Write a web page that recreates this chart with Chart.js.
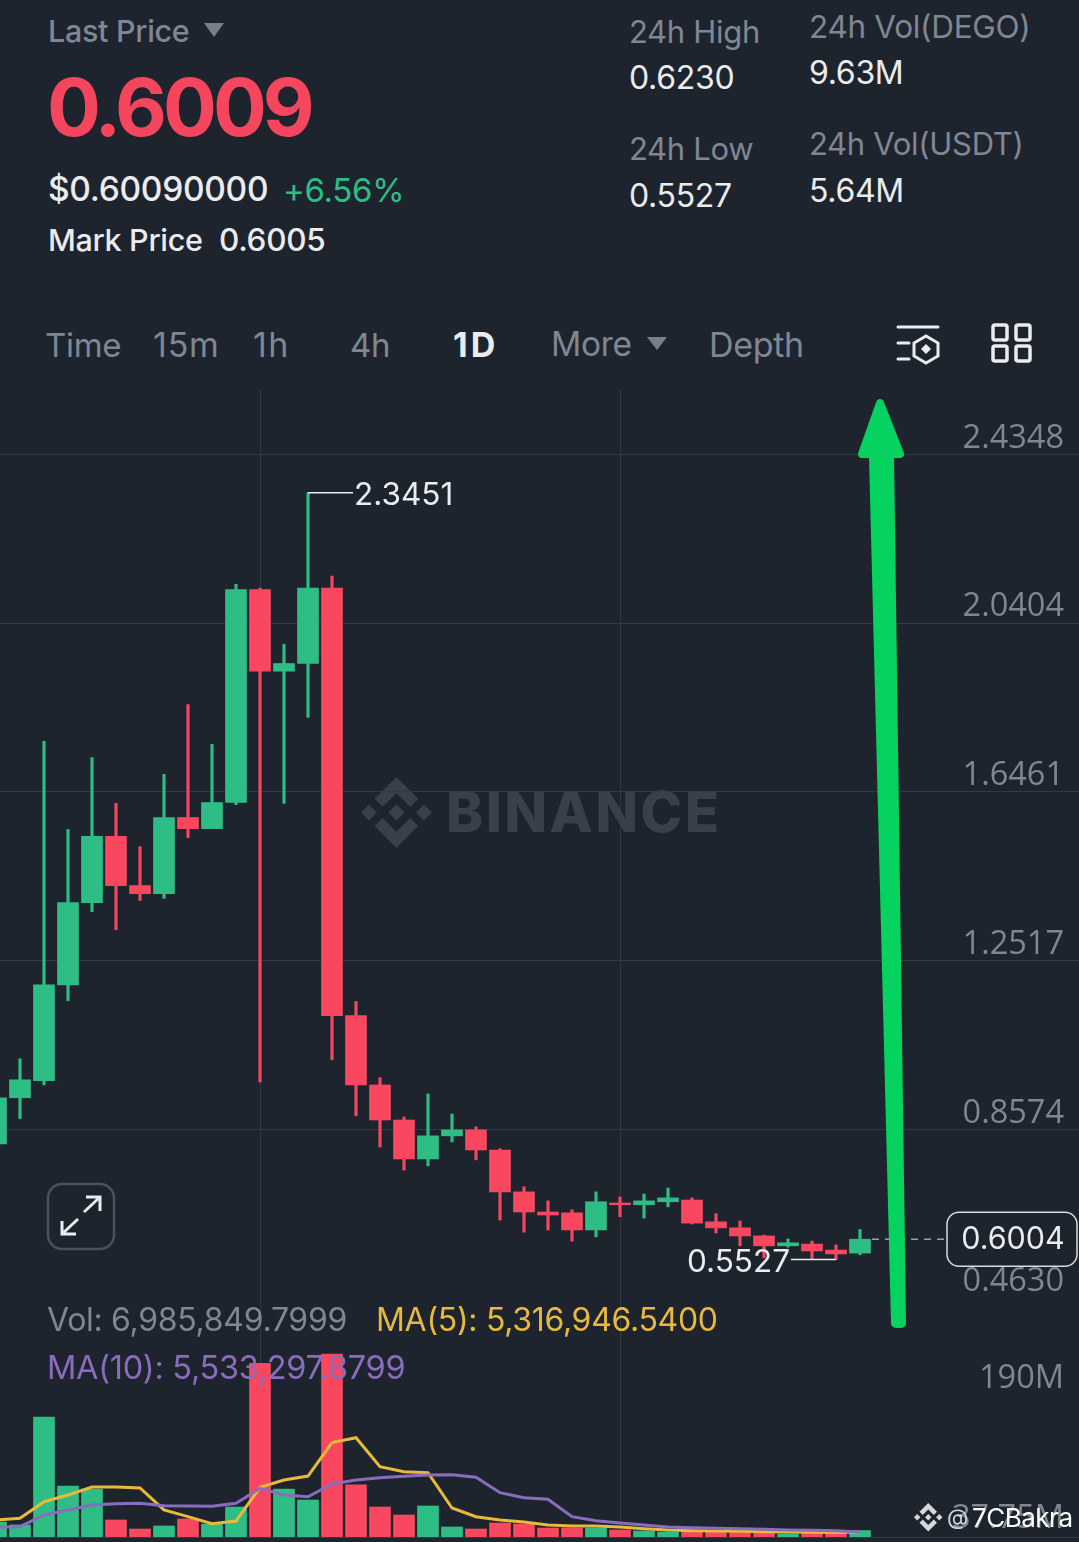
<!DOCTYPE html>
<html>
<head>
<meta charset="utf-8">
<title>DEGO/USDT 1D</title>
<script src="https://cdn.jsdelivr.net/npm/chart.js@4/dist/chart.umd.min.js"></script>
<style>
    html, body { margin: 0; padding: 0; background: #1e242e; }
    #page { position: relative; width: 1079px; height: 1542px; overflow: hidden; background: #1e242e; font-family: Inter, sans-serif; }
    #page canvas { position: absolute; }
    #page svg { position: absolute; left: 0; top: 0; }
    .t { position: absolute; transform: translateY(-50%); white-space: nowrap; font-size: 31.5px; line-height: 1; color: #7f8793; letter-spacing: -0.3px; }
    .w { color: #eaecef; }
    .tab { font-size: 34px; }
</style>
</head>
<body>
<div id="page">
    <!-- watermark sits under the canvases -->
    <svg width="1079" height="1542">
        <defs>
            <g id="bnb">
                <path d="M38.73 53.2 63.3 28.63l24.59 24.58 14.3-14.3L63.3 0 24.43 38.9z"/>
                <path d="M0 63.3l14.3-14.3 14.3 14.3-14.3 14.3z"/>
                <path d="M38.73 73.41 63.3 97.98l24.59-24.58 14.3 14.29L63.3 126.61 24.43 87.7z"/>
                <path d="M98.01 63.31l14.3-14.3 14.3 14.3-14.3 14.3z"/>
                <path d="M77.83 63.3 63.3 48.76 52.56 59.5l-1.24 1.23-2.54 2.54L63.3 77.83 77.83 63.31z"/>
            </g>
        </defs>
        <use href="#bnb" transform="translate(361 777) scale(0.56)" fill="#3a404b"/>
    </svg>
    <div class="t" style="left:446px;top:812px;font-size:56px;font-weight:800;color:#3a404b;letter-spacing:2.5px">BINANCE</div>

    <canvas id="priceChart" style="left:-16px;top:390px"></canvas>
    <canvas id="volumeChart" style="left:-16px;top:1297px"></canvas>

    <!-- header -->
    <div class="t" style="left:48px;top:31px;font-size:30.5px;font-weight:500">Last Price</div>
    <div class="t" style="left:47px;top:107px;font-size:80px;font-weight:700;color:#f6465d;letter-spacing:-4px">0.6009</div>
    <div class="t w" style="left:48px;top:190px;font-size:33.5px;font-weight:500">$0.60090000</div>
    <div class="t" style="left:283px;top:190px;font-size:33px;color:#2ebd85">+6.56%</div>
    <div class="t w" style="left:48px;top:240px;font-size:30.5px;font-weight:500">Mark Price</div>
    <div class="t w" style="left:219px;top:240px;font-size:31.5px;font-weight:500">0.6005</div>

    <div class="t" style="left:629px;top:31px;font-size:31px">24h High</div>
    <div class="t w" style="left:629px;top:78px;font-size:32px">0.6230</div>
    <div class="t" style="left:629px;top:148px;font-size:31px">24h Low</div>
    <div class="t w" style="left:629px;top:196px;font-size:32px">0.5527</div>
    <div class="t" style="left:809px;top:27px;font-size:31.5px">24h Vol(DEGO)</div>
    <div class="t w" style="left:809px;top:73px;font-size:32px">9.63M</div>
    <div class="t" style="left:809px;top:143px;font-size:31px">24h Vol(USDT)</div>
    <div class="t w" style="left:809px;top:191px;font-size:32px">5.64M</div>

    <!-- interval tabs -->
    <div class="t tab" style="left:45px;top:345px;font-size:33px">Time</div>
    <div class="t tab" style="left:153px;top:345px;letter-spacing:0.8px">15m</div>
    <div class="t tab" style="left:253px;top:345px;letter-spacing:1.5px">1h</div>
    <div class="t tab" style="left:350px;top:345px;font-size:33px">4h</div>
    <div class="t tab w" style="left:453px;top:345px;font-weight:700;letter-spacing:3px">1D</div>
    <div class="t tab" style="left:551px;top:345px;font-size:33.5px">More</div>
    <div class="t tab" style="left:709px;top:345px">Depth</div>

    <!-- volume readout -->
    <div class="t" style="left:47px;top:1320px;font-size:32px">Vol: 6,985,849.7999</div>
    <div class="t" style="left:376px;top:1320px;font-size:32px;color:#e8b93a">MA(5): 5,316,946.5400</div>
    <div class="t" style="left:47px;top:1368px;font-size:32.5px;color:#8a6cbc">MA(10): 5,533,297.8799</div>

    <div class="t" style="left:947px;top:1517px;font-size:22px;color:#d5d7da">@</div>
    <div class="t" style="left:972px;top:1518px;font-size:26px;color:#ffffff;letter-spacing:-0.5px">7CBakra</div>

    <svg width="1079" height="1542">
        <!-- dropdown triangles -->
        <polygon points="204,23 224,23 214,37" fill="#787f8c"/>
        <polygon points="647,337 667,337 657,350" fill="#787f8c"/>

        <!-- settings icon -->
        <g fill="none" stroke="#eaecef" stroke-width="3" stroke-linecap="round">
            <path d="M898 327H938M898 343H909M898 359H909"/>
            <path d="M926 336 938 343V356L926 363 914 356V343Z"/>
        </g>
        <path d="M926 344 931 349 926 354 921 349Z" fill="#eaecef"/>

        <!-- layout icon -->
        <g fill="none" stroke="#eaecef" stroke-width="3.5">
            <rect x="993" y="325" width="14" height="15" rx="2"/>
            <rect x="1016" y="325" width="14" height="15" rx="2"/>
            <rect x="993" y="346" width="14" height="15" rx="2"/>
            <rect x="1016" y="346" width="14" height="15" rx="2"/>
        </g>

        <!-- fullscreen button -->
        <rect x="48" y="1184" width="66" height="65" rx="14" fill="none" stroke="#4b515b" stroke-width="2.5"/>
        <g fill="none" stroke="#eaecef" stroke-width="3">
            <path d="M84 1212 100 1197M86 1197H100V1211"/>
            <path d="M78 1219 62 1234M62 1221V1234H76"/>
        </g>

        <use href="#bnb" transform="translate(914 1503) scale(0.225)" fill="#d5d7da"/>

        <!-- hand drawn arrow on top of the screenshot -->
        <g fill="#06d25f" stroke="#06d25f" stroke-linejoin="round">
            <polygon points="880,403 900,454 862,454" stroke-width="8"/>
            <polygon points="874,456 889,456 901,1323 896,1323" stroke-width="10"/>
        </g>
    </svg>
</div>

<script>
// Price candles, oldest first. First candle is cut by the left edge of the screen.
const candleLabels = ['C1', 'C2', 'C3', 'C4', 'C5', 'C6', 'C7', 'C8', 'C9', 'C10', 'C11', 'C12', 'C13',
    'C14', 'C15', 'C16', 'C17', 'C18', 'C19', 'C20', 'C21', 'C22', 'C23', 'C24', 'C25', 'C26', 'C27',
    'C28', 'C29', 'C30', 'C31', 'C32', 'C33', 'C34', 'C35', 'C36', 'C37',
    '', '', '', '', '', '', '', '', ''];

const priceOpen = [0.823, 0.931, 0.971, 1.195, 1.387, 1.542, 1.427, 1.408, 1.586, 1.560, 1.621, 2.119, 1.928,
    1.946, 2.122, 1.123, 0.961, 0.879, 0.788, 0.842, 0.856, 0.809, 0.711, 0.664, 0.662, 0.622, 0.685,
    0.681, 0.688, 0.692, 0.641, 0.627, 0.608, 0.585, 0.589, 0.575, 0.568];
const priceClose = [0.931, 0.973, 1.195, 1.387, 1.542, 1.427, 1.408, 1.586, 1.560, 1.621, 2.119, 1.928, 1.946,
    2.122, 1.123, 0.961, 0.879, 0.788, 0.842, 0.856, 0.809, 0.711, 0.664, 0.657, 0.622, 0.688, 0.681,
    0.690, 0.697, 0.638, 0.627, 0.608, 0.585, 0.592, 0.573, 0.566, 0.6004];
const priceHigh = [0.931, 1.022, 1.764, 1.558, 1.726, 1.619, 1.518, 1.687, 1.850, 1.757, 2.131, 2.122, 1.991,
    2.3451, 2.150, 1.156, 0.978, 0.886, 0.940, 0.893, 0.863, 0.812, 0.723, 0.690, 0.669, 0.711, 0.699,
    0.706, 0.720, 0.697, 0.660, 0.643, 0.610, 0.601, 0.596, 0.587, 0.623];
const priceLow = [0.823, 0.882, 0.961, 1.158, 1.366, 1.324, 1.392, 1.397, 1.539, 1.560, 1.616, 0.968, 1.619,
    1.820, 1.020, 0.889, 0.816, 0.762, 0.772, 0.828, 0.786, 0.645, 0.617, 0.622, 0.596, 0.606, 0.653,
    0.650, 0.676, 0.636, 0.615, 0.585, 0.557, 0.582, 0.554, 0.5527, 0.564];

// Volume in millions
const volumes = [16.3, 13.1, 130.5, 55.5, 52.2, 18.5, 8.7, 12.0, 19.6, 14.1, 32.6, 189.0, 52.2,
    40.2, 199.0, 56.6, 32.6, 23.9, 33.7, 10.9, 8.7, 15.2, 14.1, 9.8, 9.8, 9.8, 7.6,
    6.5, 5.4, 5.4, 5.4, 5.4, 5.4, 3.3, 4.3, 4.3, 6.99];
const volumeMa5 = [18.5, 20.3, 38.4, 45.7, 54.4, 54.4, 53.3, 29.4, 22.1, 14.5, 17.4, 54.0, 62.0,
    66.3, 102.6, 108.0, 76.5, 71.0, 69.9, 31.5, 22.1, 18.5, 16.3, 13.0, 12.0, 12.0, 10.9,
    9.0, 7.6, 6.9, 6.5, 6.2, 5.8, 5.4, 5.1, 4.9, 5.32];
const volumeMa10 = [10.5, 11.2, 23.9, 29.4, 34.8, 36.2, 36.6, 34.0, 33.7, 33.4, 36.6, 53.0, 45.7,
    43.8, 57.6, 62.0, 64.5, 66.0, 67.4, 67.8, 64.9, 48.2, 42.7, 41.0, 22.1, 17.7, 15.2,
    13.0, 10.9, 10.1, 9.5, 9.0, 8.4, 7.6, 7.3, 6.9, 5.53];

const priceTicks = [2.4348, 2.0404, 1.6461, 1.2517, 0.8574, 0.4630];
const priceMin = 0.4630;
const priceMax = 2.5852;
const volumeTicks = [190, 37.75];
const volumeMax = 261;
const lastPrice = 0.6004;

// Vertical grid lines fall on these candles
const verticalGridCandles = ['C12', 'C27'];

const UP = '#2ebd85';
const DOWN = '#f9475f';
const GRID = '#333944';
const AXIS_TEXT = '#7f8793';
// Open Sans has even digit widths, so the right aligned labels start on one line
const FONT = { family: 'Open Sans', size: 32.5 };

document.addEventListener('DOMContentLoaded', function() {
    initializePriceChart();
    initializeVolumeChart();
});

function candleColors() {
    return priceOpen.map((open, i) => (priceClose[i] >= open ? UP : DOWN));
}

/**
 * Shared x axis: one slot per candle, grid lines only on the picked candles
 */
function candleAxis() {
    return {
        offset: true,
        border: { display: false },
        ticks: { display: false, autoSkip: false },
        grid: {
            offset: false,
            drawTicks: false,
            color: ctx => (verticalGridCandles.includes(candleLabels[ctx.index]) ? GRID : 'transparent')
        }
    };
}

// y axis floats over the plot, so it must not take any room from it
function floatAxis(scale) {
    scale.width = 0;
    scale.paddingTop = 0;
    scale.paddingBottom = 0;
}

/**
 * Labels for the highest high, lowest low and the live price line
 */
const priceMarkers = {
    id: 'priceMarkers',
    afterDraw(chart) {
        const { ctx, scales } = chart;
        const x = scales.x;
        const y = scales.y;
        ctx.save();
        ctx.font = '31.5px Inter';
        ctx.textBaseline = 'middle';

        // highest high, leader goes right
        const hi = priceHigh.indexOf(Math.max(...priceHigh));
        const hiX = x.getPixelForValue(hi);
        const hiY = y.getPixelForValue(priceHigh[hi]);
        ctx.strokeStyle = '#eaecef';
        ctx.lineWidth = 1.5;
        ctx.beginPath();
        ctx.moveTo(hiX, hiY);
        ctx.lineTo(hiX + 45, hiY);
        ctx.stroke();
        ctx.fillStyle = '#eaecef';
        ctx.textAlign = 'left';
        ctx.fillText(priceHigh[hi].toFixed(4), hiX + 46, hiY + 3);

        // lowest low, leader goes left
        const lo = priceLow.indexOf(Math.min(...priceLow));
        const loX = x.getPixelForValue(lo);
        const loY = y.getPixelForValue(priceLow[lo]);
        ctx.beginPath();
        ctx.moveTo(loX, loY);
        ctx.lineTo(loX - 45, loY);
        ctx.stroke();
        ctx.textAlign = 'right';
        ctx.fillText(priceLow[lo].toFixed(4), loX - 46, loY + 3);

        // live price
        const lastX = x.getPixelForValue(priceClose.length - 1);
        const lastY = y.getPixelForValue(lastPrice);
        const boxLeft = 963;
        ctx.setLineDash([7, 6]);
        ctx.strokeStyle = '#9aa0a9';
        ctx.beginPath();
        ctx.moveTo(lastX + 12, lastY);
        ctx.lineTo(boxLeft, lastY);
        ctx.stroke();
        ctx.setLineDash([]);
        ctx.beginPath();
        ctx.roundRect(boxLeft, lastY - 27, 130, 54, 12);
        ctx.fillStyle = '#1e242e';
        ctx.fill();
        ctx.strokeStyle = '#d8dade';
        ctx.stroke();
        ctx.font = '30.5px Inter';
        ctx.fillStyle = '#eaecef';
        ctx.textAlign = 'center';
        ctx.fillText(lastPrice.toFixed(4), boxLeft + 66, lastY + 1);
        ctx.restore();
    }
};

function initializePriceChart() {
    const colors = candleColors();
    const canvas = document.getElementById('priceChart');
    canvas.width = 1104;
    canvas.height = 908;

    new Chart(canvas, {
        type: 'bar',
        data: {
            labels: candleLabels,
            datasets: [
                {
                    label: 'Body',
                    data: priceOpen.map((open, i) => [open, priceClose[i]]),
                    backgroundColor: colors,
                    barThickness: 21,
                    grouped: false,
                    order: 1
                },
                {
                    label: 'Wick',
                    data: priceLow.map((low, i) => [low, priceHigh[i]]),
                    backgroundColor: colors,
                    barThickness: 2.5,
                    grouped: false,
                    order: 2
                }
            ]
        },
        options: {
            responsive: false,
            animation: false,
            layout: { padding: 0 },
            plugins: { legend: { display: false }, tooltip: { enabled: false } },
            scales: {
                x: candleAxis(),
                y: {
                    position: 'right',
                    min: priceMin,
                    max: priceMax,
                    border: { display: false },
                    grid: { color: GRID, drawTicks: false },
                    afterBuildTicks: scale => { scale.ticks = priceTicks.map(value => ({ value })); },
                    afterFit: floatAxis,
                    ticks: {
                        mirror: true,
                        padding: -24,
                        labelOffset: -16,
                        color: AXIS_TEXT,
                        font: FONT,
                        callback: value => value.toFixed(4)
                    }
                }
            }
        },
        plugins: [priceMarkers]
    });
}

function initializeVolumeChart() {
    const canvas = document.getElementById('volumeChart');
    canvas.width = 1104;
    canvas.height = 241;

    new Chart(canvas, {
        type: 'bar',
        data: {
            labels: candleLabels,
            datasets: [
                {
                    type: 'line',
                    label: 'MA(5)',
                    data: volumeMa5,
                    borderColor: '#e8b93a',
                    borderWidth: 3,
                    pointRadius: 0,
                    tension: 0,
                    order: 2
                },
                {
                    type: 'line',
                    label: 'MA(10)',
                    data: volumeMa10,
                    borderColor: '#8a6cbc',
                    borderWidth: 3,
                    pointRadius: 0,
                    tension: 0,
                    order: 1
                },
                {
                    label: 'Vol',
                    data: volumes,
                    backgroundColor: candleColors(),
                    barThickness: 21,
                    order: 3
                }
            ]
        },
        options: {
            responsive: false,
            animation: false,
            layout: { padding: { bottom: 1 } },
            plugins: { legend: { display: false }, tooltip: { enabled: false } },
            scales: {
                x: Object.assign(candleAxis(), { border: { display: true, color: GRID } }),
                y: {
                    position: 'right',
                    min: 0,
                    max: volumeMax,
                    border: { display: false },
                    grid: { display: false },
                    afterBuildTicks: scale => { scale.ticks = volumeTicks.map(value => ({ value })); },
                    afterFit: floatAxis,
                    ticks: {
                        mirror: true,
                        padding: -24,
                        labelOffset: 16,
                        color: AXIS_TEXT,
                        font: FONT,
                        callback: value => value + 'M'
                    }
                }
            }
        }
    });
}
</script>
</body>
</html>
